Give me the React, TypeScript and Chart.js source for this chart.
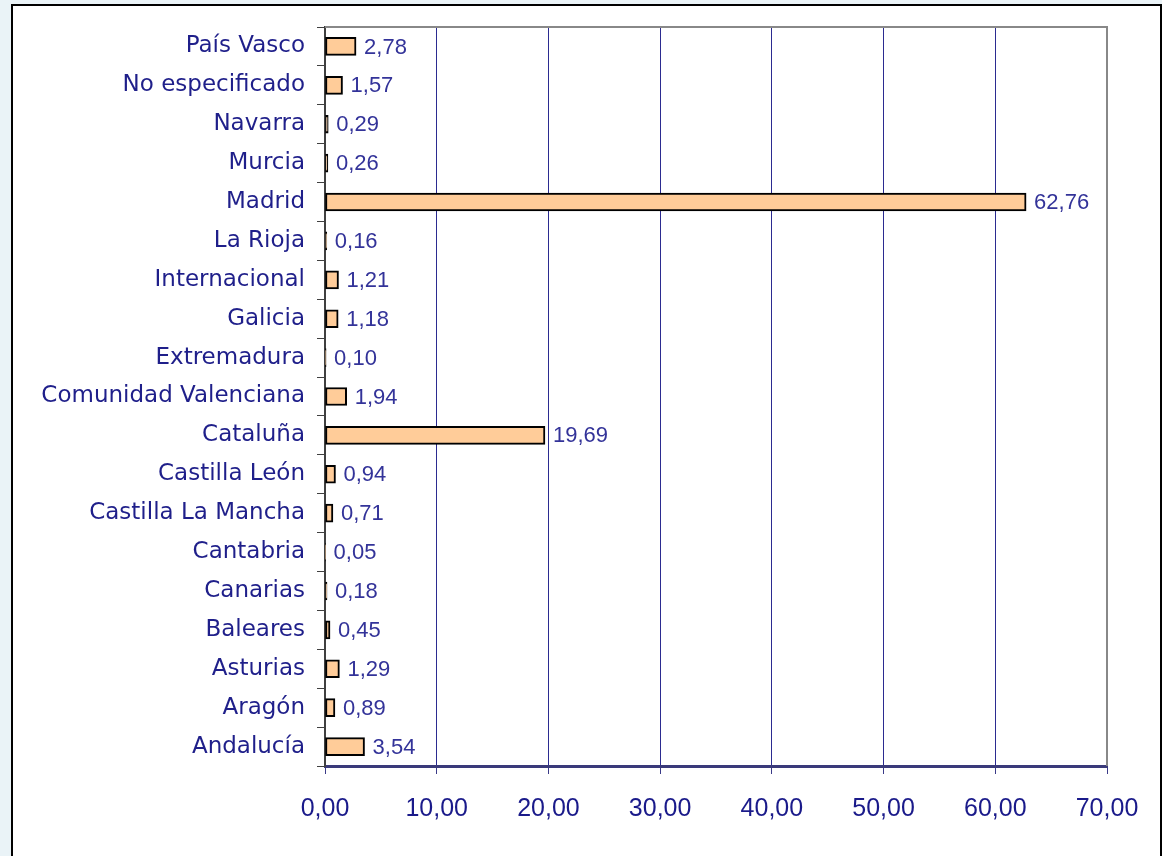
import React, { useEffect, useRef } from "react";
import { Chart, registerables } from "chart.js";

Chart.register(...registerables);

const categories = [
  "País Vasco",
  "No especificado",
  "Navarra",
  "Murcia",
  "Madrid",
  "La Rioja",
  "Internacional",
  "Galicia",
  "Extremadura",
  "Comunidad Valenciana",
  "Cataluña",
  "Castilla León",
  "Castilla La Mancha",
  "Cantabria",
  "Canarias",
  "Baleares",
  "Asturias",
  "Aragón",
  "Andalucía",
];

const values = [
  2.78, 1.57, 0.29, 0.26, 62.76, 0.16, 1.21, 1.18, 0.1, 1.94, 19.69, 0.94,
  0.71, 0.05, 0.18, 0.45, 1.29, 0.89, 3.54,
];

const xMin = 0;
const xMax = 70;
const xStep = 10;

const fmt = (v: number) => v.toFixed(2).replace(".", ",");

const W = 1162;
const H = 856;

const framePlugin = {
  id: "frame",
  beforeDraw(chart: any) {
    const ctx = chart.ctx;
    ctx.save();
    ctx.fillStyle = "#EAF3F7";
    ctx.fillRect(0, 0, W, H);
    ctx.fillStyle = "#FFFFFF";
    ctx.fillRect(12, 5, W - 12, H - 5);
    ctx.strokeStyle = "#000000";
    ctx.lineWidth = 2;
    ctx.strokeRect(12, 5, W - 12 - 1, H + 10);
    ctx.restore();
  },
  afterDatasetsDraw(chart: any) {
    const ctx = chart.ctx;
    const a = chart.chartArea;
    ctx.save();
    // top & right plot border
    ctx.strokeStyle = "#888888";
    ctx.lineWidth = 2;
    ctx.beginPath();
    ctx.moveTo(a.left, a.top);
    ctx.lineTo(a.right, a.top);
    ctx.lineTo(a.right, a.bottom);
    ctx.stroke();
    // value labels
    const meta = chart.getDatasetMeta(0);
    ctx.fillStyle = "#333399";
    ctx.font = "22px 'Liberation Sans', Arial, sans-serif";
    ctx.textAlign = "left";
    ctx.textBaseline = "middle";
    meta.data.forEach((el: any, i: number) => {
      ctx.fillText(fmt(values[i]), el.x + 8, el.y + 1);
    });
    ctx.restore();
  },
};

export default function App() {
  const ref = useRef<HTMLCanvasElement>(null);
  useEffect(() => {
    document.body.style.margin = "0";
    const chart = new Chart(ref.current as HTMLCanvasElement, {
      type: "bar",
      data: {
        labels: categories,
        datasets: [
          {
            data: values,
            backgroundColor: "#FFCC99",
            borderColor: "#000000",
            borderWidth: 2,
            borderSkipped: false,
            barThickness: 18,
          },
        ],
      },
      options: {
        indexAxis: "y",
        animation: false,
        responsive: false,
        maintainAspectRatio: false,
        layout: { padding: { left: 0, top: 27, right: 55, bottom: 0 } },
        plugins: {
          legend: { display: false },
          tooltip: { enabled: false },
        },
        scales: {
          x: {
            min: xMin,
            max: xMax,
            ticks: {
              stepSize: xStep,
              color: "#1A1A8A",
              font: { family: "'Liberation Sans', Arial, sans-serif", size: 25 },
              padding: 20,
              callback: (v: any) => fmt(Number(v)),
            },
            grid: {
              color: "#2B2B90",
              lineWidth: 1,
              tickLength: 8,
              tickColor: "#3A3A88",
            },
            border: { color: "#3A3A7A", width: 3 },
            afterFit: (s: any) => {
              s.height = 90;
            },
          },
          y: {
            ticks: {
              color: "#1F1F8A",
              font: { family: "'DejaVu Sans', sans-serif", size: 23 },
              padding: 12,
            },
            grid: {
              drawOnChartArea: false,
              tickLength: 8,
              tickColor: "#404040",
              lineWidth: 1,
            },
            border: { color: "#404040", width: 2 },
            afterFit: (s: any) => {
              s.width = 325;
            },
          },
        },
      },
      plugins: [framePlugin],
    });
    return () => chart.destroy();
  }, []);
  return (
    <div style={{ width: W, height: H }}>
      <canvas ref={ref} width={W} height={H} style={{ display: "block" }} />
    </div>
  );
}
